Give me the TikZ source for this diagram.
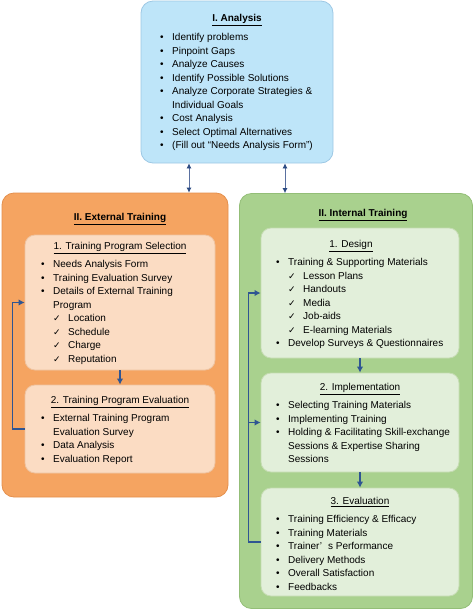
\documentclass[tikz,border=0pt]{standalone}
\usepackage{fontspec}
\setmainfont{Liberation Sans}
\newfontfamily\checkfont{DejaVu Sans}
\usetikzlibrary{positioning,arrows.meta}

\definecolor{anafill}{HTML}{BEE5F9}
\definecolor{anaedge}{HTML}{9DC8E4}
\definecolor{extfill}{HTML}{F5A461}
\definecolor{extedge}{HTML}{E48F4C}
\definecolor{peachfill}{HTML}{FBDCC3}
\definecolor{peachedge}{HTML}{EFC3A0}
\definecolor{intfill}{HTML}{A9D18E}
\definecolor{intedge}{HTML}{93BE77}
\definecolor{mintfill}{HTML}{E2EFDA}
\definecolor{mintedge}{HTML}{C5DCB2}
\definecolor{flowblue}{HTML}{2F5592}
\definecolor{linkblue}{HTML}{5A70A0}
\definecolor{linkhead}{HTML}{2B4A82}

\newcommand{\bul}{\makebox[12pt][l]{\textbullet}}
\newcommand{\chk}{\hspace*{12pt}\makebox[15pt][l]{\checkfont\fontsize{9pt}{10pt}\selectfont ✓}}
\newcommand{\ind}{\hspace*{12pt}}

\begin{document}
\begin{tikzpicture}[
    x=1pt, y=-1pt,
    font=\fontsize{10pt}{13.5pt}\selectfont,
    panel/.style={rectangle, rounded corners=12pt, line width=0.8pt},
    anabox/.style={panel, fill=anafill, draw=anaedge},
    extbox/.style={panel, fill=extfill, draw=extedge},
    intbox/.style={panel, fill=intfill, draw=intedge},
    subext/.style={panel, rounded corners=10pt, fill=peachfill, draw=peachedge},
    subint/.style={panel, rounded corners=10pt, fill=mintfill, draw=mintedge},
    heading/.style={anchor=base, font=\fontsize{10pt}{13.5pt}\selectfont\bfseries},
    subheading/.style={anchor=base},
    itemlist/.style={anchor=north west, align=left, inner sep=0pt},
    flow/.style={-{Latex[length=6pt,width=6.5pt]}, line width=1.6pt, draw=flowblue},
    link/.style={{Latex[length=5pt,width=5pt,color=linkhead]}-{Latex[length=5pt,width=5pt,color=linkhead]}, line width=0.8pt, draw=linkblue}
]
    \useasboundingbox (0,0) rectangle (474,611);

    % boxes
    \node[anabox, minimum width=192pt, minimum height=162pt] (analysis) at (237,82) {};
    \node[extbox, minimum width=226pt, minimum height=304pt] (external) at (115,345) {};
    \node[intbox, minimum width=233pt, minimum height=415pt] (internal) at (356,401) {};
    \node[subext, minimum width=190pt, minimum height=135pt] (progsel) at (120,302.5) {};
    \node[subext, minimum width=190pt, minimum height=88pt] (progeval) at (120,429) {};
    \node[subint, minimum width=198pt, minimum height=130pt] (design) at (360,293) {};
    \node[subint, minimum width=198pt, minimum height=99pt] (impl) at (360,422.5) {};
    \node[subint, minimum width=198pt, minimum height=108pt] (evaluation) at (360,542) {};

    % I. Analysis
    \node[heading] (anatitle) at (237,21.5) {\underline{I. Analysis}};
    \node[itemlist] (analist) at (160,31) {\strut\bul Identify problems\\
        \bul Pinpoint Gaps\\
        \bul Analyze Causes\\
        \bul Identify Possible Solutions\\
        \bul Analyze Corporate Strategies \&\\
        \ind Individual Goals\\
        \bul Cost Analysis\\
        \bul Select Optimal Alternatives\\
        \bul (Fill out “Needs Analysis Form”)};

    % II. External Training
    \node[heading] (exttitle) at (120,220.5) {\underline{II. External Training}};
    \node[subheading] (seltitle) at (120,249.5) {\underline{1. Training Program Selection}};
    \node[itemlist] (sellist) at (41,258) {\strut\bul Needs Analysis Form\\
        \bul Training Evaluation Survey\\
        \bul Details of External Training\\
        \ind Program\\
        \chk Location\\
        \chk Schedule\\
        \chk Charge\\
        \chk Reputation};
    \node[subheading] (evaltitle) at (120,403.5) {\underline{2. Training Program Evaluation}};
    \node[itemlist] (evallist) at (41,412) {\strut\bul External Training Program\\
        \ind Evaluation Survey\\
        \bul Data Analysis\\
        \bul Evaluation Report};

    % II. Internal Training
    \node[heading] (inttitle) at (363,216.5) {\underline{II. Internal Training}};
    \node[subheading] (destitle) at (351,247.5) {\underline{1. Design}};
    \node[itemlist] (deslist) at (276,256) {\strut\bul Training \& Supporting Materials\\
        \chk Lesson Plans\\
        \chk Handouts\\
        \chk Media\\
        \chk Job-aids\\
        \chk E-learning Materials\\
        \bul Develop Surveys \& Questionnaires};
    \node[subheading] (imptitle) at (360,390.5) {\underline{2. Implementation}};
    \node[itemlist] (implist) at (276,399) {\strut\bul Selecting Training Materials\\
        \bul Implementing Training\\
        \bul Holding \& Facilitating Skill-exchange\\
        \ind Sessions \& Expertise Sharing\\
        \ind Sessions};
    \node[subheading] (revtitle) at (360,504.5) {\underline{3. Evaluation}};
    \node[itemlist] (revlist) at (276,513) {\strut\bul Training Efficiency \& Efficacy\\
        \bul Training Materials\\
        \bul Trainer’\hspace{6pt}s Performance\\
        \bul Delivery Methods\\
        \bul Overall Satisfaction\\
        \bul Feedbacks};

    % connectors
    \draw[link] ([xshift=-48pt]analysis.south) -- ([xshift=-48pt]analysis.south |- external.north);
    \draw[link] ([xshift=48pt]analysis.south) -- ([xshift=48pt]analysis.south |- internal.north);
    \draw[flow] (progsel) -- (progeval);
    \draw[flow] (design) -- (impl);
    \draw[flow] (impl) -- (evaluation);
    \draw[flow] (progeval.west) -- ++(-12,0) |- (progsel.west);
    \draw[flow] (evaluation.west) -- ++(-12,0) coordinate (loop) |- (design.west);
    \draw[flow] (loop |- impl.west) -- (impl.west);
\end{tikzpicture}
\end{document}
